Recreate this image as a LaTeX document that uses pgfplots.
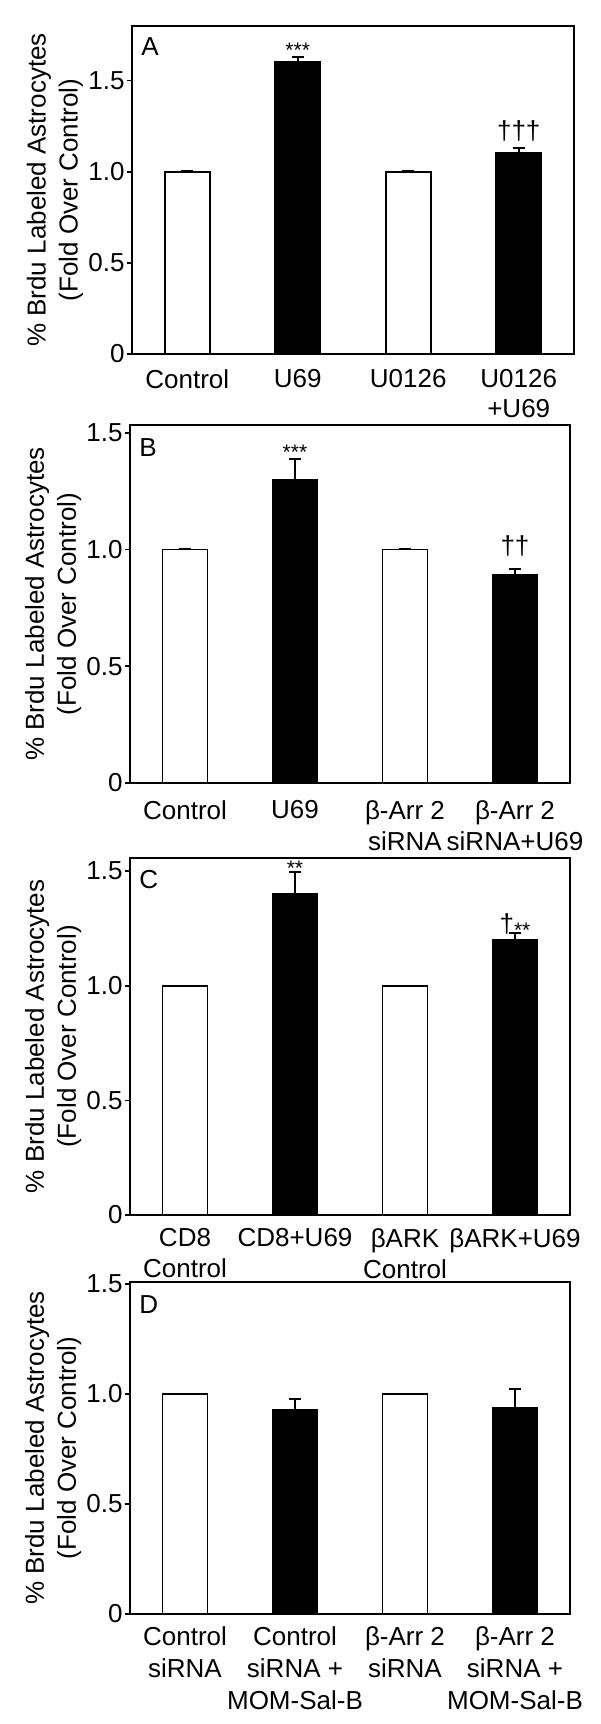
\documentclass[border=0pt]{standalone}
\usepackage{fontspec}
\setmainfont{Liberation Sans}
\usepackage{pgfplots}
\pgfplotsset{compat=1.18}

\newcommand\ff{\fontsize{13}{15}\selectfont}
\newcommand\sfs{\fontsize{10.5}{12}\selectfont}

\pgfplotsset{
  panel/.style={
    scale only axis,
    width=221pt,
    ybar,
    ymin=0,
    xmin=-0.5, xmax=3.5,
    xtick={0,1,2,3},
    ytick={0,0.5,1,1.5},
    yticklabels={0,0.5,1.0,1.5},
    ytick pos=left,
    tick align=outside,
    major tick length=2.5pt,
    major tick style={line width=0.8pt, black},
    xtick style={draw=none},
    axis line style={line width=1pt},
    tick label style={font=\ff},
    yticklabel style={inner sep=1pt},
    xticklabel style={align=center, inner sep=0pt, yshift=-5pt},
    ylabel={\% Brdu Labeled Astrocytes\\(Fold Over Control)},
    ylabel style={font=\fontsize{13}{16}\selectfont, align=center,
      at={(axis description cs:-0.11,0.5)}, anchor=south, inner sep=0pt},
    /pgf/number format/assume math mode=true,
    bar width=22.5pt,
  },
  wbar/.style={draw=black, fill=white, line width=0.8pt, bar shift=0pt},
  bbar/.style={draw=black, fill=black, line width=0.8pt, bar shift=0pt},
  eb/.style={error bars/.cd, y dir=plus, y explicit,
    error bar style={line width=1pt, black},
    error mark options={rotate=90, mark size=3pt, line width=1pt, black}},
}
\tikzset{note/.style={font=\ff, inner sep=0pt},
  star/.style={font=\sfs, inner sep=0pt, anchor=north}}

\begin{document}
\begin{tikzpicture}
\useasboundingbox (0,0) rectangle (300pt,862pt);

% A
\begin{axis}[panel, at={(66pt,685pt)}, anchor=south west, height=164pt, ymax=1.80,
  xticklabels={Control, U69, U0126, {U0126\\+U69}}]
\addplot[wbar, eb] coordinates {(0,1.0) +- (0,0.004) (2,1.0) +- (0,0.004)};
\addplot[bbar, eb] coordinates {(1,1.605) +- (0,0.027) (3,1.105) +- (0,0.025)};
\node[star] at (axis cs:1,1.71) {***};
\node[note, anchor=north] at (axis cs:3,1.28) {†††};
\node[note, anchor=north west] at ([xshift=4.5pt,yshift=-5.5pt]rel axis cs:0,1) {A};
\end{axis}

% B
\begin{axis}[panel, at={(65pt,470.5pt)}, anchor=south west, width=220pt, height=179pt, ymax=1.534,
  xticklabels={Control, U69, {β-Arr 2\\siRNA}, {β-Arr 2\\siRNA+U69}},
  xticklabel style={yshift=-1pt, font=\fontsize{13}{15.5}\selectfont}]
\addplot[wbar, eb] coordinates {(0,1.0) +- (0,0.004) (2,1.0) +- (0,0.003)};
\addplot[bbar, eb] coordinates {(1,1.30) +- (0,0.09) (3,0.89) +- (0,0.027)};
\node[star] at (axis cs:1,1.45) {***};
\node[note, anchor=north] at (axis cs:3,1.06) {††};
\node[note, anchor=north west] at ([xshift=4.5pt,yshift=-6.5pt]rel axis cs:0,1) {B};
\end{axis}

% C
\begin{axis}[panel, at={(65pt,254.5pt)}, anchor=south west, width=220pt, height=178.5pt, ymax=1.557,
  xticklabels={{CD8\\Control}, CD8+U69, {βARK\\Control}, βARK+U69},
  xticklabel style={yshift=1pt, font=\fontsize{13}{15.5}\selectfont}]
\addplot[wbar] coordinates {(0,1.0) (2,1.0)};
\addplot[bbar, eb] coordinates {(1,1.40) +- (0,0.095) (3,1.20) +- (0,0.028)};
\node[star] at (axis cs:1,1.545) {**};
\node[note, anchor=north] at (axis cs:3,1.317) {†\raisebox{-2.8pt}{\sfs **}};
\node[note, anchor=north west] at ([xshift=4.5pt,yshift=-6pt]rel axis cs:0,1) {C};
\end{axis}

% D
\begin{axis}[panel, at={(65pt,55pt)}, anchor=south west, width=220pt, height=166pt, ymax=1.509,
  xticklabels={{Control\\siRNA}, {Control\\siRNA +\\MOM-Sal-B}, {β-Arr 2\\siRNA}, {β-Arr 2\\siRNA +\\MOM-Sal-B}},
  xticklabel style={yshift=1.5pt, font=\fontsize{13}{16}\selectfont}]
\addplot[wbar] coordinates {(0,1.0) (2,1.0)};
\addplot[bbar, eb] coordinates {(1,0.93) +- (0,0.047) (3,0.935) +- (0,0.088)};
\node[note, anchor=north west] at ([xshift=4.5pt,yshift=-6.5pt]rel axis cs:0,1) {D};
\end{axis}
\end{tikzpicture}
\end{document}
